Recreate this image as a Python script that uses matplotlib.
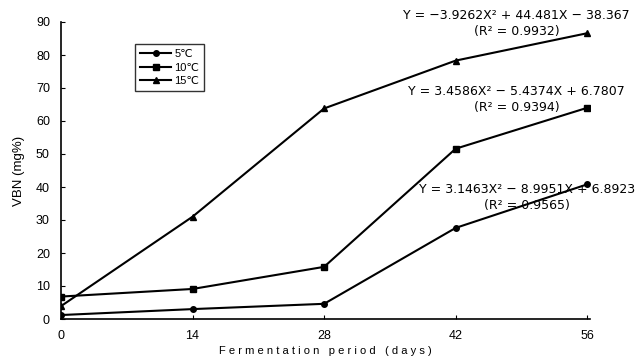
import matplotlib.pyplot as plt

days = [0, 14, 28, 42, 56]
vbn_5c = [1.2, 3.0, 4.6, 27.6, 40.8]
vbn_10c = [6.8, 9.1, 15.8, 51.6, 64.0]
vbn_15c = [3.9, 31.0, 63.8, 78.3, 86.6]
series_labels = ['5℃', '10℃', '15℃']
eq_labels = ['Y = 3.1463X² − 8.9951X + 6.8923\n(R² = 0.9565)',
             'Y = 3.4586X² − 5.4374X + 6.7807\n(R² = 0.9394)',
             'Y = −3.9262X² + 44.481X − 38.367\n(R² = 0.9932)']

plt.rcParams['font.family'] = ['Liberation Sans', 'DejaVu Sans']

fig = plt.figure(figsize=(6.38, 3.61), dpi=100)
ax = fig.add_axes([61 / 638, 1 - 319 / 361, 529 / 638, 297 / 361])

ax.plot(days, vbn_5c, color='black', lw=1.5, marker='o', ms=4, label=series_labels[0])
ax.plot(days, vbn_10c, color='black', lw=1.5, marker='s', ms=5, label=series_labels[1])
ax.plot(days, vbn_15c, color='black', lw=1.5, marker='^', ms=5, label=series_labels[2])

ax.set_xlim(0, 56.3)
ax.set_ylim(0, 90)
ax.set_xticks(days)
ax.set_yticks(range(0, 91, 10))
ax.spines['top'].set_visible(False)
ax.spines['right'].set_visible(False)
ax.spines['left'].set_linewidth(1.2)
ax.spines['bottom'].set_linewidth(1.2)
ax.tick_params(direction='in', length=3, labelsize=9, pad=8)
ax.set_xlabel('F e r m e n t a t i o n   p e r i o d   ( d a y s )', fontsize=8, labelpad=3)
ax.set_ylabel('VBN (mg%)', fontsize=9.5, labelpad=8)

eq_font = dict(family='DejaVu Sans', fontsize=9, ha='center', va='center',
               linespacing=1.3, multialignment='center', clip_on=False)
ax.text(49.6, 36.7, eq_labels[0], **eq_font)
ax.text(48.5, 66.4, eq_labels[1], **eq_font)
ax.text(48.5, 89.4, eq_labels[2], **eq_font)

leg = ax.legend(loc='upper left', bbox_to_anchor=(0.14, 0.925), fontsize=8, frameon=True,
                fancybox=False, edgecolor='black', handlelength=2.8, labelspacing=0.3,
                borderpad=0.45, handletextpad=0.3, borderaxespad=0)
leg.get_frame().set_linewidth(1.0)

fig.savefig('out.png', dpi=100)
